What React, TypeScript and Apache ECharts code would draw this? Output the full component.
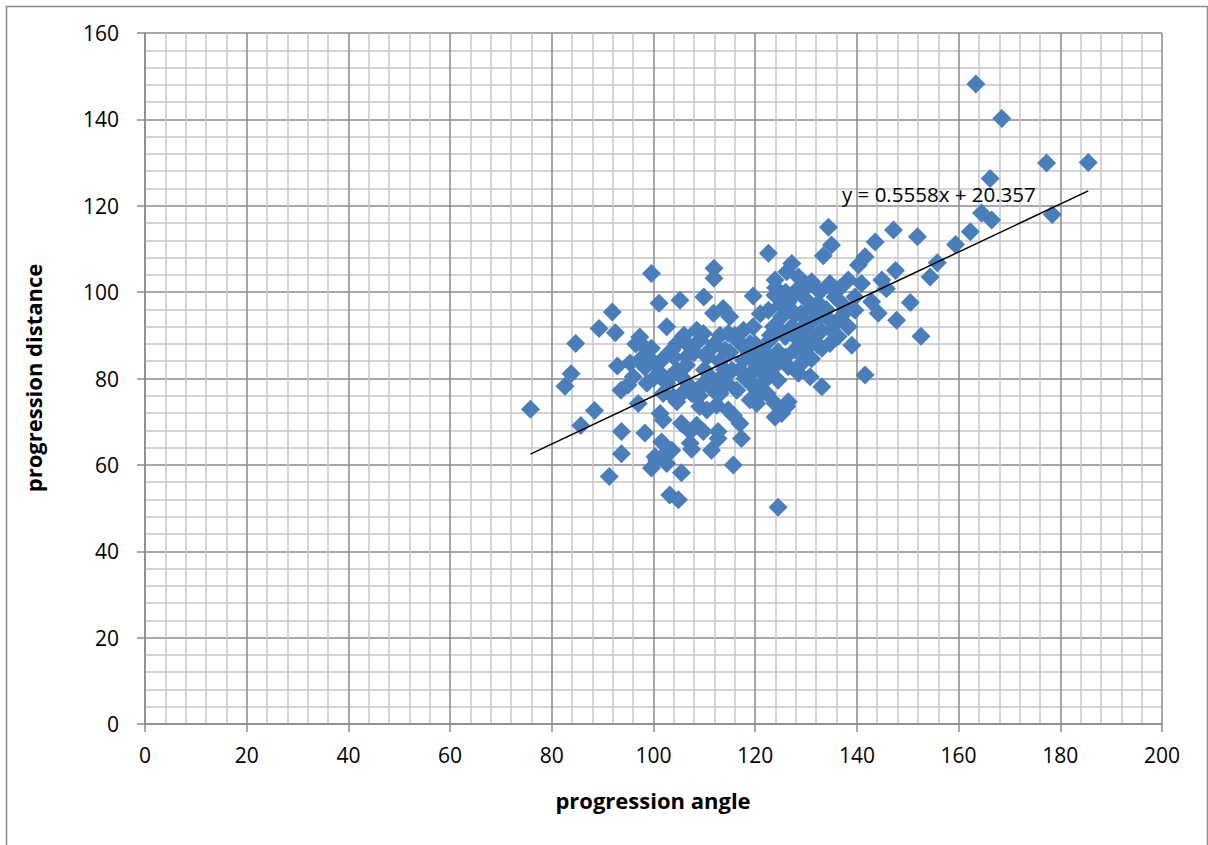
import React, { useEffect, useRef } from "react";
import * as echarts from "echarts";

// progression angle (x) and progression distance (y)
const angle = [
  75.8, 82.6, 83.8, 84.7, 85.7, 88.4, 89.3, 91.9, 92.5, 92.9, 91.3, 93.7, 93.7, 93.6, 96.0, 97.0,
  97.3, 97.3, 98.0, 98.3, 98.7, 99.6, 99.6, 99.6, 100.3, 101.1, 101.3, 101.9, 101.9, 101.9, 101.6, 102.3,
  102.6, 102.6, 103.2, 104.9, 104.6, 104.6, 105.2, 105.5, 105.5, 106.5, 107.2, 107.2, 107.5, 108.5, 108.5, 108.5,
  109.1, 109.9, 110.5, 111.4, 111.9, 111.9, 111.8, 112.4, 112.7, 112.7, 113.1, 113.7, 114.1, 114.4, 115.0, 115.7,
  115.7, 116.4, 117.0, 117.3, 117.7, 117.7, 119.0, 119.6, 119.6, 120.3, 120.0, 120.3, 121.3, 122.6, 122.6, 122.6,
  122.3, 122.9, 123.6, 123.9, 123.9, 124.5, 124.5, 125.2, 125.2, 125.9, 126.2, 126.2, 126.5, 126.5, 126.5, 127.2,
  127.2, 127.8, 127.8, 128.5, 128.5, 128.5, 129.8, 129.8, 129.8, 130.8, 131.1, 131.1, 131.4, 132.4, 133.4, 133.1,
  133.1, 133.1, 134.4, 135.0, 134.7, 135.0, 135.0, 135.4, 135.7, 136.7, 136.3, 137.3, 137.7, 138.3, 139.0, 139.6,
  140.3, 140.9, 141.6, 141.6, 142.9, 143.6, 144.2, 144.9, 145.8, 147.2, 147.6, 147.8, 150.5, 151.9, 152.6, 154.4,
  155.8, 159.4, 162.3, 163.4, 164.5, 166.2, 166.5, 168.5, 177.3, 178.4, 185.5,
  96.5, 95.4, 95.0, 98.3, 100.0, 103.6, 101.3, 105.5, 107.2, 111.1, 111.8, 109.1, 113.1, 115.4, 119.0, 120.3,
  104.6, 109.8, 114.7, 116.4, 119.0, 120.3, 111.1, 106.5, 102.6, 107.5, 103.9, 110.5, 114.7, 109.8, 107.2, 103.6,
  100.6, 121.9, 123.2, 129.1, 130.4, 133.1, 127.8, 123.9, 128.5, 132.7, 139.6, 136.3, 138.3, 134.7, 131.1, 124.5,
  121.3, 120.9, 123.9,
  106.0, 108.0, 110.0, 112.0, 113.0, 115.0, 116.0, 118.0, 118.0, 120.0, 121.0, 122.0, 123.0, 124.0, 125.0, 126.0,
  127.0, 128.0, 129.0, 130.0, 131.0, 132.0, 133.0, 134.0, 126.0, 125.0, 124.0, 130.0, 117.0, 114.0, 110.0, 104.0,
  103.0, 100.0, 99.0, 106.0, 109.0, 113.0, 119.0, 121.0,
];

const distance = [
  72.9, 78.2, 81.1, 88.1, 69.1, 72.6, 91.6, 95.4, 90.6, 82.9, 57.3, 62.6, 67.7, 77.3, 80.4, 74.2,
  84.3, 89.6, 87.5, 67.4, 78.9, 87.0, 104.3, 59.3, 61.9, 97.4, 71.9, 70.4, 76.5, 84.6, 65.3, 62.6,
  60.3, 92.0, 53.0, 51.9, 88.1, 74.6, 98.1, 69.6, 58.2, 83.1, 78.1, 67.7, 63.6, 75.8, 69.2, 91.2,
  88.9, 98.9, 85.0, 63.4, 105.5, 103.2, 95.1, 73.8, 67.7, 66.1, 90.0, 96.2, 86.6, 78.9, 94.3, 71.5,
  60.0, 77.3, 69.6, 66.1, 91.2, 84.3, 75.0, 99.1, 92.0, 82.7, 81.9, 74.2, 85.0, 109.0, 95.8, 80.4,
  76.5, 88.9, 92.0, 99.3, 71.1, 86.2, 50.2, 94.3, 71.9, 89.7, 104.7, 73.5, 97.8, 82.7, 74.6, 106.6,
  92.0, 94.7, 86.6, 103.5, 88.9, 81.2, 98.5, 92.4, 84.6, 80.4, 102.4, 96.6, 88.5, 87.7, 108.4, 94.7,
  87.0, 78.1, 115.0, 110.9, 102.0, 93.1, 91.2, 100.5, 98.9, 101.0, 89.7, 97.0, 95.4, 102.8, 87.7, 95.8,
  106.3, 102.0, 108.2, 80.8, 97.8, 111.6, 95.1, 102.8, 100.8, 114.4, 105.0, 93.5, 97.6, 112.8, 89.8, 103.5,
  106.8, 111.0, 114.0, 148.2, 118.3, 126.3, 116.7, 140.2, 129.9, 118.0, 130.0,
  88.0, 83.6, 78.5, 82.6, 83.6, 86.6, 81.2, 80.4, 87.3, 80.4, 77.3, 73.5, 76.5, 81.9, 78.9, 77.3,
  81.9, 90.4, 90.4, 88.9, 88.1, 86.6, 86.6, 85.0, 78.9, 76.5, 75.8, 72.7, 72.7, 67.7, 65.0, 63.4,
  61.1, 85.8, 83.5, 83.5, 90.4, 96.6, 99.7, 102.8, 100.9, 100.1, 98.9, 93.5, 92.0, 88.1, 84.6, 79.6,
  78.9, 76.2, 74.2,
  90.0, 86.0, 82.0, 88.0, 84.0, 86.0, 90.0, 87.0, 80.0, 88.0, 82.0, 86.0, 90.0, 83.0, 91.0, 85.0,
  96.0, 91.0, 95.0, 87.0, 93.0, 97.0, 91.0, 96.0, 100.0, 97.0, 101.0, 101.0, 82.0, 82.0, 79.0, 85.0,
  80.0, 80.0, 85.0, 77.0, 76.0, 80.0, 85.0, 95.0,
];

// trendline coefficients shown on the chart
const slope = 0.5558;
const intercept = 20.357;
const equationLabel = "y = 0.5558x + 20.357";

const xTitle = "progression angle";
const yTitle = "progression distance";

export default function App() {
  const ref = useRef<HTMLDivElement>(null);

  useEffect(() => {
    if (!ref.current) return;
    const chart = echarts.init(ref.current, null, { renderer: "svg" });
    const pts = angle.map((a, i) => [a, distance[i]]);
    const xmin = Math.min(...angle);
    const xmax = Math.max(...angle);
    const trend = [
      [xmin, slope * xmin + intercept],
      [xmax, slope * xmax + intercept],
    ];
    const font = '"Open Sans", "Liberation Sans", sans-serif';
    const major = "#8a8a8a";
    const minor = "#c6c6c6";

    chart.setOption({
      animation: false,
      backgroundColor: "#ffffff",
      grid: { left: 145, right: 46, top: 33, bottom: 121, containLabel: false },
      xAxis: {
        type: "value",
        min: 0,
        max: 200,
        interval: 20,
        axisLine: { show: true, lineStyle: { color: major, width: 1.5 } },
        axisTick: { show: true, length: 8, lineStyle: { color: major, width: 1.5 } },
        axisLabel: { color: "#000", fontSize: 21, fontFamily: font, margin: 20 },
        splitLine: { show: true, lineStyle: { color: major, width: 1.5 } },
        minorTick: { show: false, splitNumber: 5 },
        minorSplitLine: { show: true, lineStyle: { color: minor, width: 1.5 } },
      },
      yAxis: {
        type: "value",
        min: 0,
        max: 160,
        interval: 20,
        axisLine: { show: true, lineStyle: { color: major, width: 1.5 } },
        axisTick: { show: true, length: 8, lineStyle: { color: major, width: 1.5 } },
        axisLabel: { color: "#000", fontSize: 21, fontFamily: font, margin: 26 },
        splitLine: { show: true, lineStyle: { color: major, width: 1.5 } },
        minorTick: { show: false, splitNumber: 5 },
        minorSplitLine: { show: true, lineStyle: { color: minor, width: 1.5 } },
      },
      series: [
        {
          type: "scatter",
          data: pts,
          symbol: "diamond",
          symbolSize: 19,
          itemStyle: { color: "#4A7EBB", opacity: 1 },
          z: 2,
        },
        {
          type: "line",
          data: trend,
          symbol: "none",
          lineStyle: { color: "#000", width: 1.5 },
          z: 3,
        },
      ],
      graphic: [
        {
          type: "rect",
          left: 4,
          top: 4,
          shape: { width: 1201, height: 860 },
          style: { fill: "none", stroke: "#8a8a8a", lineWidth: 1.5 },
          silent: true,
          z: 0,
        },
        {
          type: "text",
          x: 842,
          y: 194,
          style: {
            text: equationLabel,
            fill: "#000",
            font: `20.5px ${font}`,
            textAlign: "left",
            textVerticalAlign: "middle",
          },
          z: 10,
        },
        {
          type: "text",
          x: 653,
          y: 800,
          style: {
            text: xTitle,
            fill: "#000",
            font: `bold 22px ${font}`,
            textAlign: "center",
            textVerticalAlign: "middle",
          },
        },
        {
          type: "text",
          x: 33,
          y: 378,
          rotation: Math.PI / 2,
          style: {
            text: yTitle,
            fill: "#000",
            font: `bold 22px ${font}`,
            textAlign: "center",
            textVerticalAlign: "middle",
          },
        },
      ],
    });
    return () => chart.dispose();
  }, []);

  return (
    <div
      ref={ref}
      style={{ position: "fixed", left: 0, top: 0, width: 1208, height: 845, background: "#fff" }}
    />
  );
}
